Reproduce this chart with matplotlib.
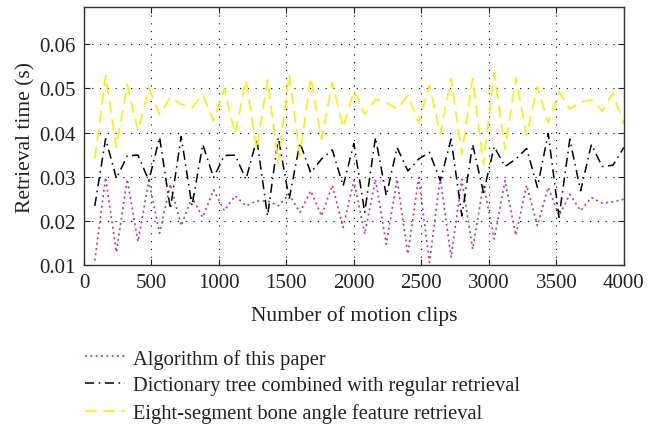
import numpy as np
import matplotlib
matplotlib.use("Agg")
import matplotlib.pyplot as plt

plt.rcParams['font.family'] = ['Liberation Serif', 'DejaVu Serif']

# Number of motion clips (sampled every 80 clips)
clips = np.arange(80, 4001, 80)

# Retrieval time (s) for each method
algorithm_this_paper = [
    0.0110, 0.0298, 0.0129, 0.0294, 0.0153, 0.0291, 0.0172, 0.0283, 0.0189, 0.0253,
    0.0208, 0.0270, 0.0223, 0.0257, 0.0234, 0.0245, 0.0245, 0.0234, 0.0260, 0.0219,
    0.0268, 0.0211, 0.0281, 0.0185, 0.0292, 0.0170, 0.0294, 0.0147, 0.0294, 0.0125,
    0.0298, 0.0106, 0.0298, 0.0117, 0.0294, 0.0136, 0.0283, 0.0159, 0.0291, 0.0167,
    0.0281, 0.0189, 0.0276, 0.0211, 0.0260, 0.0223, 0.0253, 0.0240, 0.0243, 0.0249,
]
dictionary_tree = [
    0.0234, 0.0386, 0.0296, 0.0347, 0.0349, 0.0291, 0.0389, 0.0227, 0.0391, 0.0234,
    0.0373, 0.0298, 0.0348, 0.0349, 0.0294, 0.0385, 0.0211, 0.0389, 0.0249, 0.0377,
    0.0309, 0.0340, 0.0361, 0.0279, 0.0375, 0.0219, 0.0389, 0.0257, 0.0366, 0.0313,
    0.0340, 0.0355, 0.0291, 0.0385, 0.0211, 0.0373, 0.0264, 0.0368, 0.0323, 0.0340,
    0.0364, 0.0276, 0.0398, 0.0208, 0.0385, 0.0268, 0.0373, 0.0323, 0.0326, 0.0366,
]
eight_segment = [
    0.0340, 0.0529, 0.0366, 0.0509, 0.0404, 0.0500, 0.0441, 0.0480, 0.0464, 0.0456,
    0.0486, 0.0426, 0.0499, 0.0396, 0.0519, 0.0362, 0.0519, 0.0332, 0.0532, 0.0347,
    0.0524, 0.0385, 0.0513, 0.0411, 0.0495, 0.0441, 0.0475, 0.0468, 0.0453, 0.0484,
    0.0422, 0.0507, 0.0396, 0.0522, 0.0351, 0.0522, 0.0328, 0.0534, 0.0362, 0.0524,
    0.0394, 0.0504, 0.0422, 0.0492, 0.0453, 0.0469, 0.0474, 0.0449, 0.0489, 0.0419,
]

labels = [
    "Algorithm of this paper",
    "Dictionary tree combined with regular retrieval",
    "Eight-segment bone angle feature retrieval",
]
x_ticks = np.arange(0, 4001, 500)
y_ticks = [0.01, 0.02, 0.03, 0.04, 0.05, 0.06]

fig = plt.figure(figsize=(6.58, 4.27), dpi=100)
ax = fig.add_axes([0.1277, 0.377, 0.8203, 0.604])

l1, = ax.plot(clips, algorithm_this_paper, color='#c030b0', lw=1.2,
              linestyle=(0, (1.2, 2.0)))
l2, = ax.plot(clips, dictionary_tree, color='black', lw=1.1,
              linestyle=(0, (6, 3, 1, 3)))
l3, = ax.plot(clips, eight_segment, color='#ffee00', lw=1.2,
              linestyle=(0, (7, 4)))

ax.set_xlim(0, 4000)
ax.set_ylim(0.01, 0.0684)
ax.set_xticks(x_ticks)
ax.set_yticks(y_ticks)
ax.set_yticklabels([f"{v:.2f}" for v in y_ticks])

ax.grid(True, color='black', linestyle=(0, (1, 6)), linewidth=0.8)
ax.tick_params(direction='in', length=4, width=0.8, top=True, right=True,
               labelsize=15, colors='#222222', pad=6)
for s in ax.spines.values():
    s.set_color('#333333')
    s.set_linewidth(1.0)

ax.set_xlabel("Number of motion clips", fontsize=15.5, color='#222222', labelpad=9)
ax.set_ylabel("Retrieval time (s)", fontsize=15.5, color='#222222', labelpad=3)

fig.legend([l1, l2, l3], labels, loc='upper left',
           bbox_to_anchor=(0.113, 0.205), frameon=False, fontsize=14.8,
           handlelength=1.95, handletextpad=0.4, labelspacing=0.36,
           borderpad=0, labelcolor='#222222')

fig.savefig("out.png", dpi=100)
